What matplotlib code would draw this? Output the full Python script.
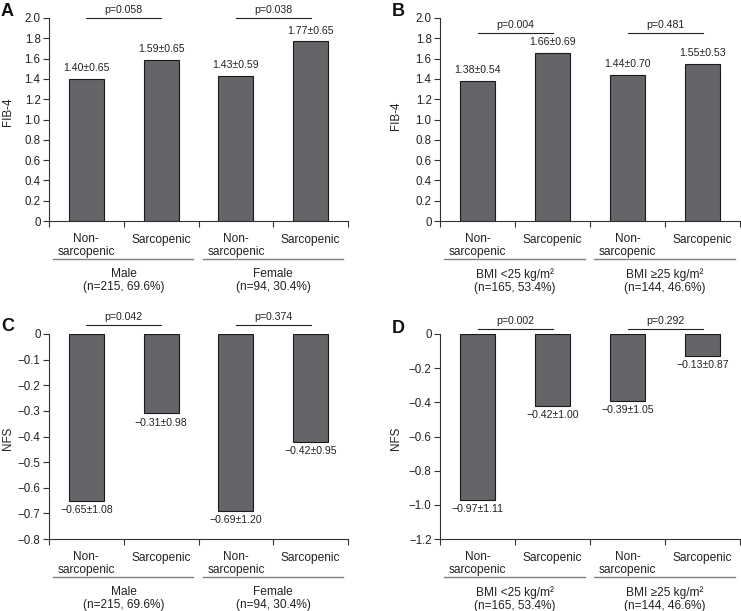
import matplotlib
matplotlib.use("Agg")
import matplotlib.pyplot as plt
from matplotlib.transforms import offset_copy

plt.rcParams['font.family'] = ['Liberation Sans', 'DejaVu Sans']

categories = ["Non-\nsarcopenic", "Sarcopenic", "Non-\nsarcopenic", "Sarcopenic"]

groups_sex = ["Male\n(n=215, 69.6%)", "Female\n(n=94, 30.4%)"]
groups_bmi = ["BMI <25 kg/m²\n(n=165, 53.4%)", "BMI ≥25 kg/m²\n(n=144, 46.6%)"]

fib4_sex_mean = [1.40, 1.59, 1.43, 1.77]
fib4_sex_sd = [0.65, 0.65, 0.59, 0.65]
fib4_sex_p = ["p=0.058", "p=0.038"]

fib4_bmi_mean = [1.38, 1.66, 1.44, 1.55]
fib4_bmi_sd = [0.54, 0.69, 0.70, 0.53]
fib4_bmi_p = ["p=0.004", "p=0.481"]

nfs_sex_mean = [-0.65, -0.31, -0.69, -0.42]
nfs_sex_sd = [1.08, 0.98, 1.20, 0.95]
nfs_sex_p = ["p=0.042", "p=0.374"]

nfs_bmi_mean = [-0.97, -0.42, -0.39, -0.13]
nfs_bmi_sd = [1.11, 1.00, 1.05, 0.87]
nfs_bmi_p = ["p=0.002", "p=0.292"]

fib4_ticks = [0, 0.2, 0.4, 0.6, 0.8, 1.0, 1.2, 1.4, 1.6, 1.8, 2.0]
nfs_sex_ticks = [0, -0.1, -0.2, -0.3, -0.4, -0.5, -0.6, -0.7, -0.8]
nfs_bmi_ticks = [0, -0.2, -0.4, -0.6, -0.8, -1.0, -1.2]

W, H = 741, 611
fig = plt.figure(figsize=(W / 100, H / 100), dpi=100)

BAR = "#646568"
TXT = "#222222"
AX = "#333333"


def fmt_num(v):
    s = f"{v:.1f}" if v != 0 else "0"
    return s.replace("-", "−")


def panel(rect_px, means, sds, pvals, pline_y, ticks, ylabel, groups, letter, letter_xy, ylab_xy):
    l, t, r, b = rect_px
    ax = fig.add_axes([l / W, 1 - b / H, (r - l) / W, (b - t) / H])
    x = [0, 1, 2, 3]
    ax.bar(x, means, width=0.47, color=BAR, edgecolor="#1a1a1a", linewidth=0.8, zorder=2)
    ax.set_xlim(-0.5, 3.5)
    if min(ticks) < 0:
        ax.set_ylim(min(ticks), 0)
    else:
        ax.set_ylim(0, max(ticks))
    ax.set_yticks(ticks)
    ax.set_yticklabels([fmt_num(v) for v in ticks])
    ax.set_xticks(x)
    ax.set_xticklabels(categories, fontsize=8.6, color=TXT, va="top", linespacing=1.05)
    ax.set_xticks([-0.5, 0.5, 1.5, 2.5, 3.5], minor=True)
    ax.tick_params(axis="x", which="major", length=0, pad=9)
    ax.tick_params(axis="x", which="minor", length=4, width=0.8, direction="out", color=AX)
    ax.tick_params(axis="y", length=4, width=0.8, direction="out", color=AX,
                   labelsize=8.3, labelcolor=TXT, pad=2)
    for s in ["top", "right"]:
        ax.spines[s].set_visible(False)
    for s in ["left", "bottom"]:
        ax.spines[s].set_color(AX)
        ax.spines[s].set_linewidth(0.8)
    ax.set_ylabel(ylabel, fontsize=8.4, color=TXT)
    ax.yaxis.set_label_coords(*ylab_xy)

    # value labels
    for xi, m, s in zip(x, means, sds):
        txt = f"{m:.2f}±{s:.2f}".replace("-", "−")
        if m >= 0:
            ax.annotate(txt, (xi, m), xytext=(0, 4), textcoords="offset points",
                        ha="center", va="bottom", fontsize=7.6, color=TXT)
        else:
            ax.annotate(txt, (xi, m), xytext=(0, -3), textcoords="offset points",
                        ha="center", va="top", fontsize=7.6, color=TXT)

    # p-value lines
    for gi, p in enumerate(pvals):
        x0, x1 = 2 * gi, 2 * gi + 1
        ax.plot([x0, x1], [pline_y, pline_y], color="#222222", lw=0.8, clip_on=False)
        ax.annotate(p, ((x0 + x1) / 2, pline_y), xytext=(0, 2), textcoords="offset points",
                    ha="center", va="bottom", fontsize=7.6, color=TXT, annotation_clip=False)

    # group lines and labels
    tr_line = offset_copy(ax.get_xaxis_transform(), fig=fig, y=-38, units="dots")
    tr_text = offset_copy(ax.get_xaxis_transform(), fig=fig, y=-47, units="dots")
    for gi, g in enumerate(groups):
        c = 2 * gi + 0.5
        ax.plot([c - 0.945, c + 0.93], [0, 0], transform=tr_line, color="#808080",
                lw=1.0, clip_on=False)
        ax.text(c, 0, g, transform=tr_text, ha="center", va="top", fontsize=8.6,
                color=TXT, linespacing=1.15)

    fig.text(letter_xy[0] / W, 1 - letter_xy[1] / H, letter, fontsize=13, fontweight="bold",
             ha="left", va="top", color="#111111")
    return ax


panel((49, 18, 348, 221), fib4_sex_mean, fib4_sex_sd, fib4_sex_p, 2.0, fib4_ticks,
      "FIB-4", groups_sex, "A", (1, 3), (-0.116, 0.54))
panel((440, 18, 740, 221), fib4_bmi_mean, fib4_bmi_sd, fib4_bmi_p, 1.85, fib4_ticks,
      "FIB-4", groups_bmi, "B", (392, 3), (-0.127, 0.52))
panel((49, 334, 348, 539), nfs_sex_mean, nfs_sex_sd, nfs_sex_p, 0.035, nfs_sex_ticks,
      "NFS", groups_sex, "C", (1, 318), (-0.116, 0.49))
panel((440, 334, 740, 539), nfs_bmi_mean, nfs_bmi_sd, nfs_bmi_p, 0.03, nfs_bmi_ticks,
      "NFS", groups_bmi, "D", (392, 320), (-0.127, 0.49))

fig.savefig("out.png", dpi=100, facecolor="white")
